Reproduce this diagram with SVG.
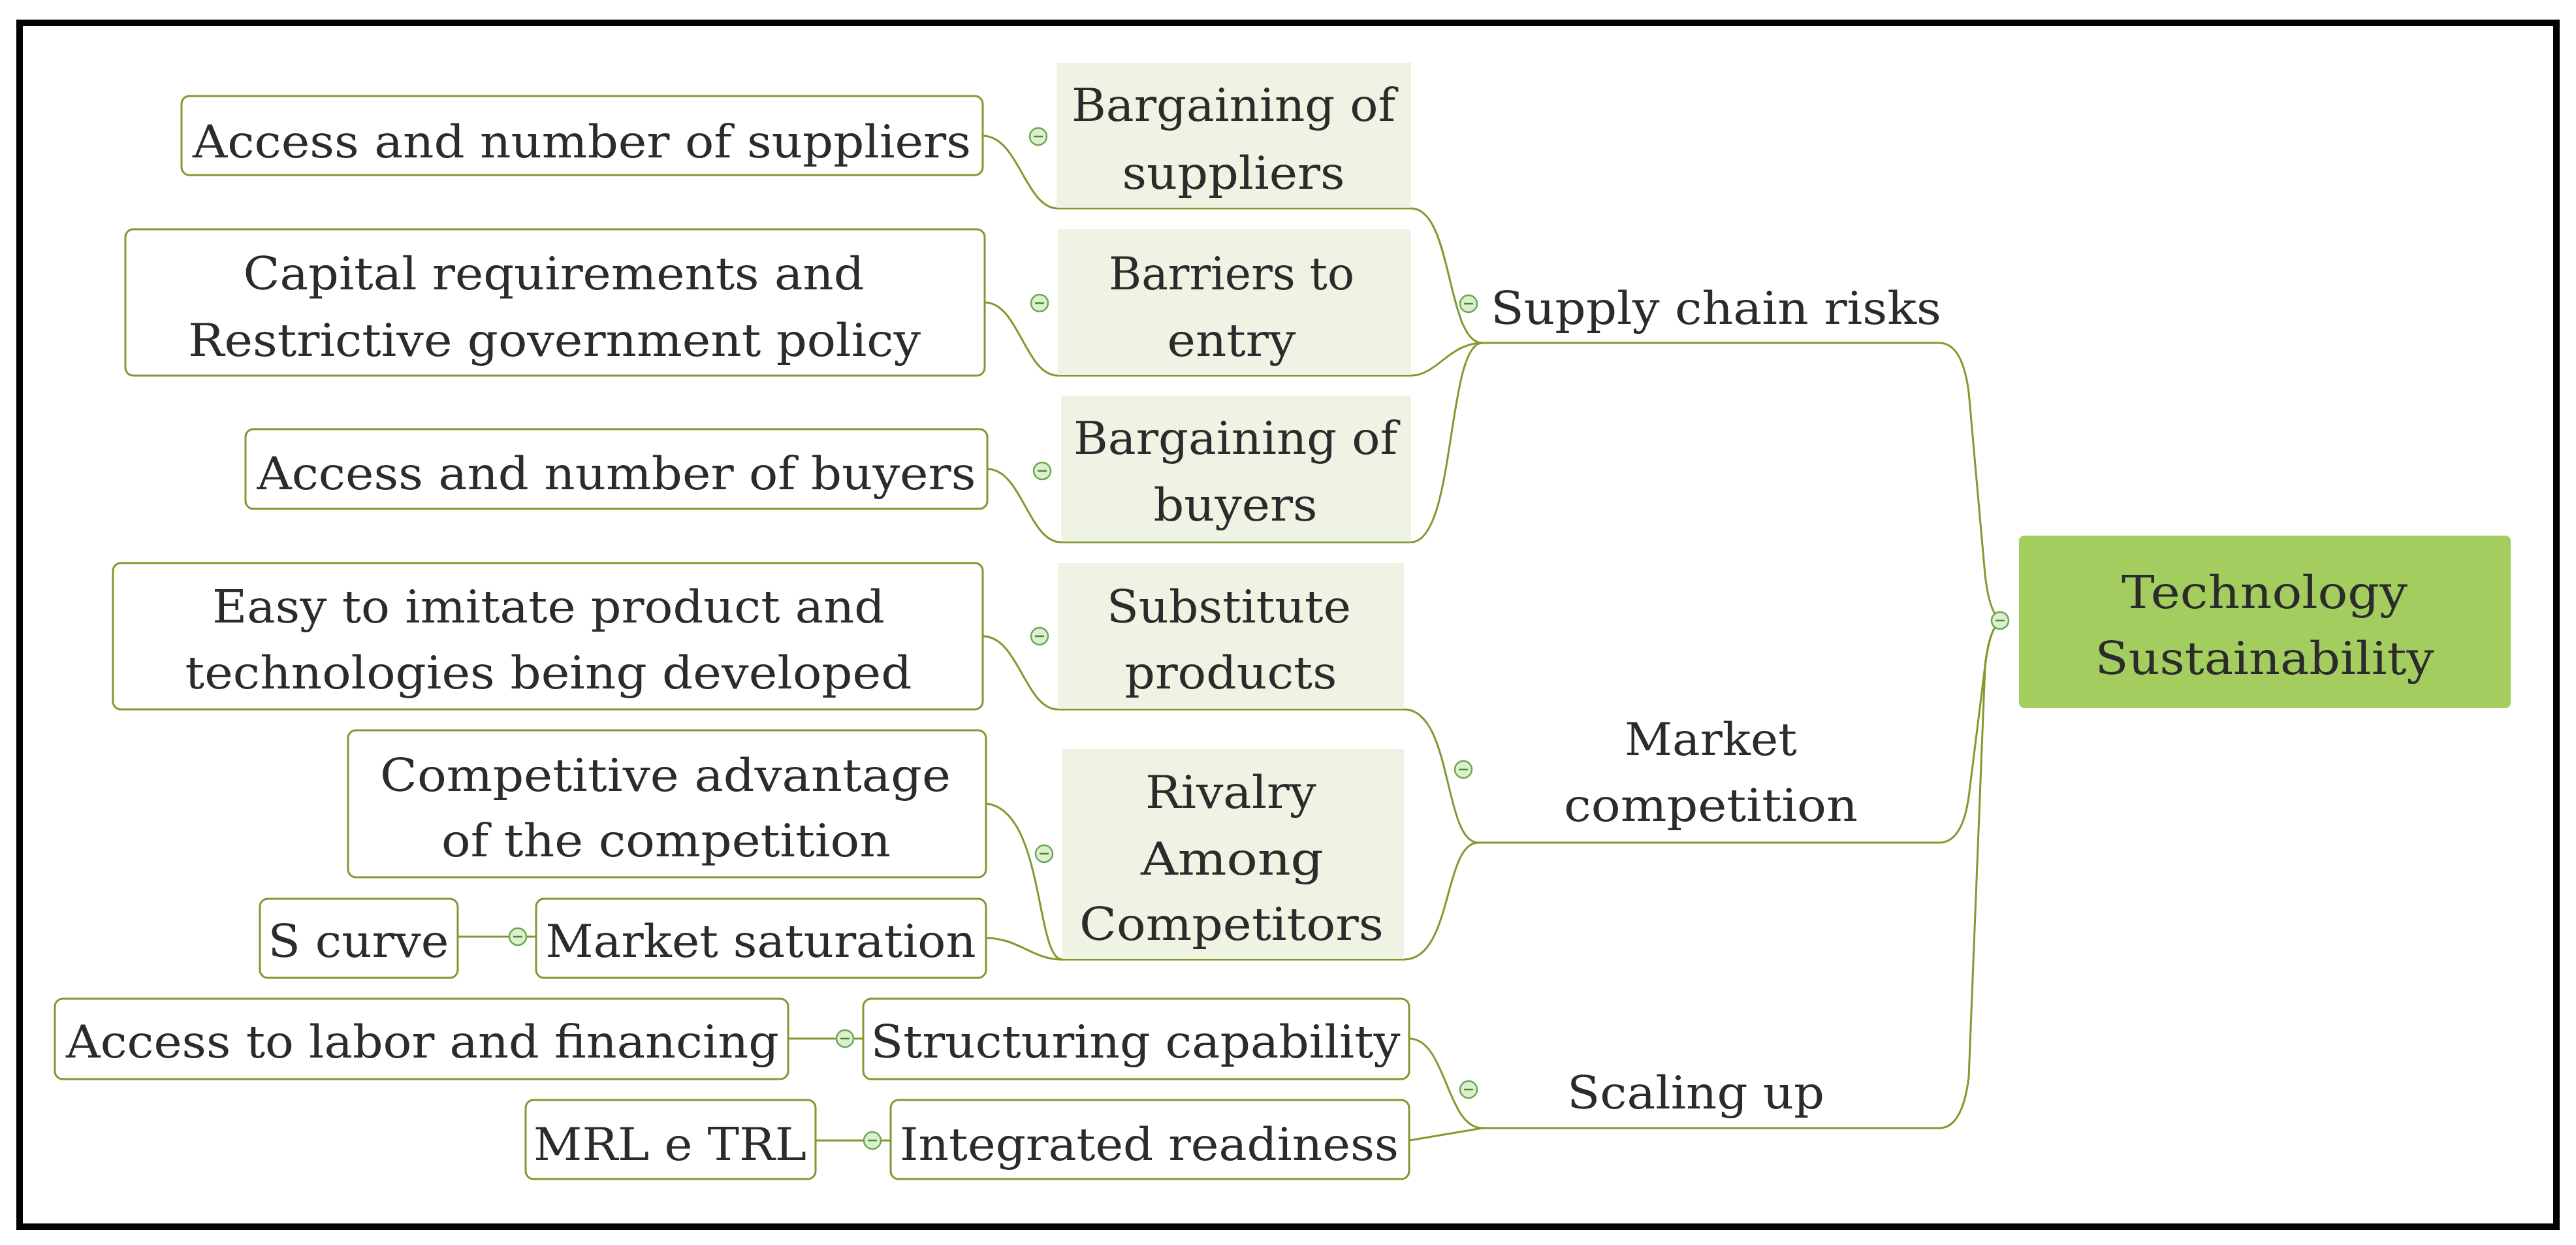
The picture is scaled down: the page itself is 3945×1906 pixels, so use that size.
<svg xmlns="http://www.w3.org/2000/svg" width="3945" height="1906" viewBox="0 0 3945 1906">
<style>
.bx{fill:#fff;stroke:#7f9a2e;stroke-width:3}
.fb{fill:#eef3e4;stroke:none}
.ln{fill:none;stroke:#7f9a2e;stroke-width:3}
.t{font-family:"DejaVu Serif","Liberation Serif",serif;font-size:70px;fill:#2b2b2b}
.c{fill:#dcefcf;stroke:#6aa84f;stroke-width:2.5}
.m{stroke:#4a8a2a;stroke-width:2.5}
</style>
<defs>
<g id="tog"><circle class="c" r="13"/><line class="m" x1="-7" y1="0" x2="7" y2="0"/></g>
</defs>
<rect x="30" y="35" width="3885" height="1843" fill="#fff" stroke="#000" stroke-width="10"/>
<g id="connectors">
<path class="ln" d="M2270,525 H2970 Q3005,525 3015,600 L3040,880 Q3048,950 3070,950"/>
<path class="ln" d="M2264,1290 H2970 Q3005,1290 3015,1220 L3040,1020 Q3048,950 3070,950"/>
<path class="ln" d="M2270,1727 H2970 Q3005,1727 3015,1650 L3040,1020 Q3048,950 3070,950"/>
<path class="ln" d="M2270,525 C2215,525 2225,319 2161,319 H1620 C1570,319 1560,208 1505,208"/>
<path class="ln" d="M2270,525 C2220,525 2200,575 2161,575 H1620 C1570,575 1560,463 1508,463"/>
<path class="ln" d="M2270,525 C2215,525 2230,830 2161,830 H1625 C1575,830 1565,718 1512,718"/>
<path class="ln" d="M2264,1290 C2210,1290 2225,1086 2150,1086 H1620 C1570,1086 1560,974 1505,974"/>
<path class="ln" d="M2264,1290 C2210,1290 2225,1469 2150,1469 H1627 C1585,1469 1600,1240 1510,1230"/>
<path class="ln" d="M1627,1469 C1580,1469 1560,1436 1510,1436"/>
<path class="ln" d="M2270,1727 C2215,1727 2215,1590 2158,1590"/>
<path class="ln" d="M2270,1727 L2158,1746"/>
<path class="ln" d="M701,1434 H821"/>
<path class="ln" d="M1207,1590 H1322"/>
<path class="ln" d="M1249,1746 H1364"/>
</g>
<g id="root"><rect x="3092" y="820" width="753" height="264" rx="8" fill="#a4cd60"/>
<text class="t" x="3468" y="931" text-anchor="middle" textLength="438" lengthAdjust="spacingAndGlyphs">Technology</text>
<text class="t" x="3468" y="1032" text-anchor="middle" textLength="519" lengthAdjust="spacingAndGlyphs">Sustainability</text>
<use href="#tog" x="3063" y="950"/></g>
<g id="supply"><text class="t" x="2283" y="496" textLength="690" lengthAdjust="spacingAndGlyphs">Supply chain risks</text><use href="#tog" x="2249" y="465"/></g>
<g id="market"><text class="t" x="2620" y="1156" text-anchor="middle" textLength="264" lengthAdjust="spacingAndGlyphs">Market</text>
<text class="t" x="2620" y="1257" text-anchor="middle" textLength="450" lengthAdjust="spacingAndGlyphs">competition</text><use href="#tog" x="2241" y="1178"/></g>
<g id="scaling"><text class="t" x="2597" y="1697" text-anchor="middle" textLength="394" lengthAdjust="spacingAndGlyphs">Scaling up</text><use href="#tog" x="2249" y="1668"/></g>
<g id="bsup"><rect class="fb" x="1618" y="96" width="543" height="222"/>
<text class="t" x="1889" y="185" text-anchor="middle" textLength="496" lengthAdjust="spacingAndGlyphs">Bargaining of</text>
<text class="t" x="1889" y="289" text-anchor="middle" textLength="341" lengthAdjust="spacingAndGlyphs">suppliers</text><use href="#tog" x="1590" y="209"/></g>
<g id="barr"><rect class="fb" x="1620" y="351" width="541" height="223"/>
<text class="t" x="1886" y="443" text-anchor="middle" textLength="376" lengthAdjust="spacingAndGlyphs">Barriers to</text>
<text class="t" x="1886" y="545" text-anchor="middle" textLength="197" lengthAdjust="spacingAndGlyphs">entry</text><use href="#tog" x="1592" y="464"/></g>
<g id="bbuy"><rect class="fb" x="1625" y="606" width="536" height="223"/>
<text class="t" x="1892" y="695" text-anchor="middle" textLength="496" lengthAdjust="spacingAndGlyphs">Bargaining of</text>
<text class="t" x="1892" y="797" text-anchor="middle" textLength="251" lengthAdjust="spacingAndGlyphs">buyers</text><use href="#tog" x="1596" y="721"/></g>
<g id="subs"><rect class="fb" x="1620" y="862" width="530" height="223"/>
<text class="t" x="1882" y="953" text-anchor="middle" textLength="374" lengthAdjust="spacingAndGlyphs">Substitute</text>
<text class="t" x="1885" y="1054" text-anchor="middle" textLength="325" lengthAdjust="spacingAndGlyphs">products</text><use href="#tog" x="1592" y="974"/></g>
<g id="riv"><rect class="fb" x="1627" y="1147" width="523" height="321"/>
<text class="t" x="1885" y="1237" text-anchor="middle" textLength="262" lengthAdjust="spacingAndGlyphs">Rivalry</text>
<text class="t" x="1887" y="1339" text-anchor="middle" textLength="280" lengthAdjust="spacingAndGlyphs">Among</text>
<text class="t" x="1886" y="1439" text-anchor="middle" textLength="466" lengthAdjust="spacingAndGlyphs">Competitors</text><use href="#tog" x="1599" y="1307"/></g>
<g id="asup"><rect class="bx" x="278" y="147" width="1227" height="121" rx="12"/>
<text class="t" x="891" y="241" text-anchor="middle" textLength="1192" lengthAdjust="spacingAndGlyphs">Access and number of suppliers</text></g>
<g id="cap"><rect class="bx" x="192" y="351" width="1316" height="224" rx="12"/>
<text class="t" x="848" y="443" text-anchor="middle" textLength="951" lengthAdjust="spacingAndGlyphs">Capital requirements and</text>
<text class="t" x="849" y="545" text-anchor="middle" textLength="1122" lengthAdjust="spacingAndGlyphs">Restrictive government policy</text></g>
<g id="abuy"><rect class="bx" x="376" y="657" width="1136" height="122" rx="12"/>
<text class="t" x="944" y="749" text-anchor="middle" textLength="1101" lengthAdjust="spacingAndGlyphs">Access and number of buyers</text></g>
<g id="easy"><rect class="bx" x="173" y="862" width="1332" height="224" rx="12"/>
<text class="t" x="840" y="953" text-anchor="middle" textLength="1030" lengthAdjust="spacingAndGlyphs">Easy to imitate product and</text>
<text class="t" x="840" y="1054" text-anchor="middle" textLength="1113" lengthAdjust="spacingAndGlyphs">technologies being developed</text></g>
<g id="comp"><rect class="bx" x="533" y="1118" width="977" height="225" rx="12"/>
<text class="t" x="1019" y="1211" text-anchor="middle" textLength="874" lengthAdjust="spacingAndGlyphs">Competitive advantage</text>
<text class="t" x="1020" y="1311" text-anchor="middle" textLength="688" lengthAdjust="spacingAndGlyphs">of the competition</text></g>
<g id="msat"><rect class="bx" x="821" y="1376" width="689" height="121" rx="12"/>
<text class="t" x="1165" y="1465" text-anchor="middle" textLength="659" lengthAdjust="spacingAndGlyphs">Market saturation</text><use href="#tog" x="793" y="1434"/></g>
<g id="scurve"><rect class="bx" x="398" y="1376" width="303" height="121" rx="12"/>
<text class="t" x="549" y="1465" text-anchor="middle" textLength="277" lengthAdjust="spacingAndGlyphs">S curve</text></g>
<g id="struct"><rect class="bx" x="1322" y="1529" width="836" height="123" rx="12"/>
<text class="t" x="1739" y="1619" text-anchor="middle" textLength="811" lengthAdjust="spacingAndGlyphs">Structuring capability</text><use href="#tog" x="1294" y="1590"/></g>
<g id="labor"><rect class="bx" x="84" y="1529" width="1123" height="123" rx="12"/>
<text class="t" x="647" y="1619" text-anchor="middle" textLength="1092" lengthAdjust="spacingAndGlyphs">Access to labor and financing</text></g>
<g id="integ"><rect class="bx" x="1364" y="1684" width="794" height="121" rx="12"/>
<text class="t" x="1760" y="1776" text-anchor="middle" textLength="764" lengthAdjust="spacingAndGlyphs">Integrated readiness</text><use href="#tog" x="1336" y="1746"/></g>
<g id="mrl"><rect class="bx" x="805" y="1684" width="444" height="121" rx="12"/>
<text class="t" x="1026" y="1776" text-anchor="middle" textLength="418" lengthAdjust="spacingAndGlyphs">MRL e TRL</text></g>
</svg>
